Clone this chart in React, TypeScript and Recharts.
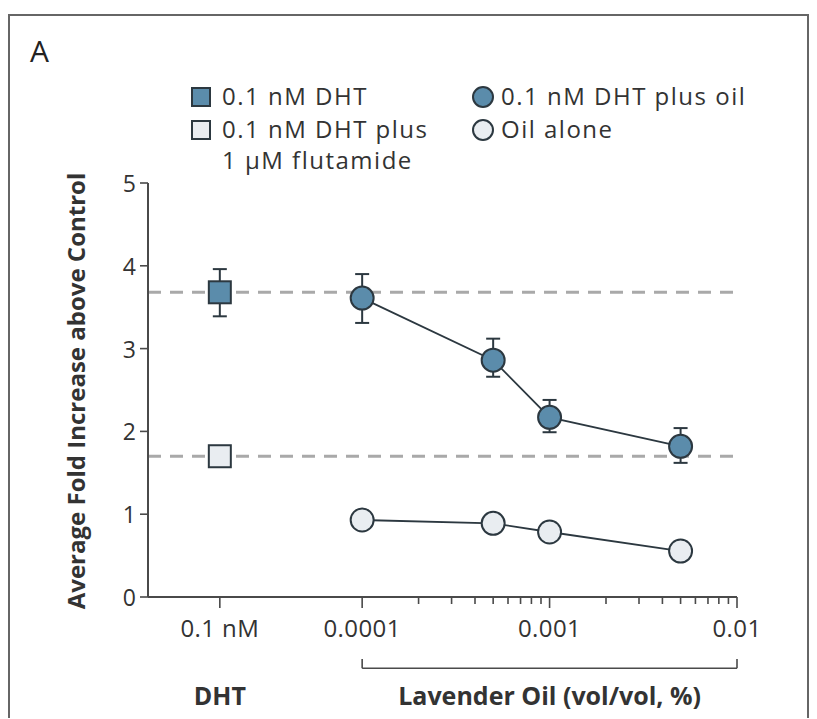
import React from 'react';
import {
  ComposedChart,
  Scatter,
  XAxis,
  YAxis,
  ReferenceLine,
  ReferenceDot,
  ErrorBar,
} from 'recharts';

// ---------- data ----------
const oilConcentrations = [0.0001, 0.0005, 0.001, 0.005];
const dhtPlusOilMean = [3.61, 2.86, 2.17, 1.82];
const dhtPlusOilErrLow = [0.3, 0.2, 0.18, 0.2];
const dhtPlusOilErrHigh = [0.29, 0.26, 0.21, 0.22];
const oilAloneMean = [0.93, 0.89, 0.785, 0.555];

const dhtMean = 3.68;
const dhtErrLow = 0.29;
const dhtErrHigh = 0.28;
const flutamideMean = 1.7;

// position of the "0.1 nM DHT" category on the log axis
const dhtCategoryX = 1.74e-5;
const xDomain = [7.2e-6, 0.01];
const majorTicks = [dhtCategoryX, 0.0001, 0.001, 0.01];
const majorLabels = ['0.1 nM', '0.0001', '0.001', '0.01'];
const minorTicks = [
  0.0002, 0.0003, 0.0004, 0.0005, 0.0006, 0.0007, 0.0008, 0.0009,
  0.002, 0.003, 0.004, 0.005, 0.006, 0.007, 0.008, 0.009,
];
const yTicks = [0, 1, 2, 3, 4, 5];

const bracketLevel = -0.86;
const bracketEndLevel = -0.75;
const groupLabelLevel = -1.18;

// ---------- tables ----------
const dhtData = [{ x: dhtCategoryX, y: dhtMean, err: [dhtErrLow, dhtErrHigh] }];
const flutamideData = [{ x: dhtCategoryX, y: flutamideMean }];
const dhtPlusOilData = oilConcentrations.map((c, i) => ({
  x: c,
  y: dhtPlusOilMean[i],
  err: [dhtPlusOilErrLow[i], dhtPlusOilErrHigh[i]],
}));
const oilAloneData = oilConcentrations.map((c, i) => ({ x: c, y: oilAloneMean[i] }));

const FONT = '"Open Sans", "Noto Sans", sans-serif';
const BLUE = '#5b8cab';
const DARK = '#2c3840';
const LIGHT = '#e9edf1';
const AXIS = '#4a4a4a';
const TEXT = '#333';

const allTicks = [...majorTicks, ...minorTicks];

const XTick = (props: any) => {
  const { x, y, payload } = props;
  const idx = majorTicks.findIndex((t) => Math.abs(t - payload.value) / t < 1e-6);
  const major = idx >= 0;
  return (
    <g>
      <line x1={x} y1={y} x2={x} y2={y + (major ? 11 : 7)} stroke={AXIS} strokeWidth={1.6} />
      {major && (
        <text
          x={x}
          y={y + 40}
          textAnchor="middle"
          fontFamily={FONT}
          fontSize={24}
          letterSpacing={0.4}
          fill={TEXT}
        >
          {majorLabels[idx]}
        </text>
      )}
    </g>
  );
};

const YTick = (props: any) => {
  const { x, y, payload } = props;
  return (
    <text
      x={x}
      y={y}
      textAnchor="end"
      dominantBaseline="central"
      fontFamily={FONT}
      fontSize={23}
      fill={TEXT}
    >
      {payload.value}
    </text>
  );
};

const SquareShape = (fill: string) => (props: any) => {
  const { cx, cy } = props;
  return (
    <rect x={cx - 11} y={cy - 11} width={22} height={22} fill={fill} stroke={DARK} strokeWidth={2} />
  );
};

const CircleShape = (fill: string) => (props: any) => {
  const { cx, cy } = props;
  return <circle cx={cx} cy={cy} r={11.5} fill={fill} stroke={DARK} strokeWidth={2} />;
};

const GroupLabel = (text: string, dx: number) => (props: any) => (
  <text
    x={props.cx + dx}
    y={props.cy}
    textAnchor="middle"
    dominantBaseline="central"
    fontFamily={FONT}
    fontWeight={700}
    fontSize={25}
    fill={TEXT}
  >
    {text}
  </text>
);

const YLabel = (props: any) => {
  const vb = props.viewBox;
  const cx = vb.x + 7;
  const cy = vb.y + vb.height / 2 + 1;
  return (
    <text
      x={cx}
      y={cy}
      transform={`rotate(-90 ${cx} ${cy})`}
      textAnchor="middle"
      dominantBaseline="central"
      fontFamily={FONT}
      fontWeight={700}
      fontSize={24}
      fill={TEXT}
    >
      Average Fold Increase above Control
    </text>
  );
};

const legendText: React.CSSProperties = {
  position: 'absolute',
  fontFamily: FONT,
  fontSize: 24,
  letterSpacing: 1.5,
  color: TEXT,
  lineHeight: '28px',
  whiteSpace: 'nowrap',
};

export default function App() {
  return (
    <div style={{ position: 'relative', width: 801, height: 710 }}>
      <div
        style={{
          position: 'absolute',
          left: 0,
          top: 6,
          width: 801,
          height: 704,
          borderTop: '2px solid #666',
          borderLeft: '2px solid #666',
          borderRight: '2px solid #666',
          boxSizing: 'border-box',
        }}
      />
      <div style={{ position: 'absolute', left: 22, top: 22, fontFamily: FONT, fontSize: 30, color: '#222' }}>
        A
      </div>

      {/* legend */}
      <svg style={{ position: 'absolute', left: 183, top: 79 }} width={20} height={20}>
        <rect x={1} y={1} width={18} height={18} fill={BLUE} stroke={DARK} strokeWidth={2} />
      </svg>
      <div style={{ ...legendText, left: 214, top: 74 }}>0.1 nM DHT</div>
      <svg style={{ position: 'absolute', left: 183, top: 112 }} width={20} height={20}>
        <rect x={1} y={1} width={18} height={18} fill={LIGHT} stroke={DARK} strokeWidth={2} />
      </svg>
      <div style={{ ...legendText, left: 214, top: 107 }}>0.1 nM DHT plus</div>
      <div style={{ ...legendText, left: 214, top: 138 }}>1 μM flutamide</div>
      <svg style={{ position: 'absolute', left: 464, top: 78 }} width={22} height={22}>
        <circle cx={11} cy={11} r={10} fill={BLUE} stroke={DARK} strokeWidth={2} />
      </svg>
      <div style={{ ...legendText, left: 493, top: 74 }}>0.1 nM DHT plus oil</div>
      <svg style={{ position: 'absolute', left: 464, top: 111 }} width={22} height={22}>
        <circle cx={11} cy={11} r={10} fill={LIGHT} stroke={DARK} strokeWidth={2} />
      </svg>
      <div style={{ ...legendText, left: 493, top: 107 }}>Oil alone</div>

      <div style={{ position: 'absolute', left: 0, top: 0 }}>
        <ComposedChart
          width={801}
          height={709}
          margin={{ top: 175, right: 72, left: 60, bottom: 90 }}
        >
          <XAxis
            dataKey="x"
            type="number"
            scale="log"
            domain={xDomain}
            allowDataOverflow
            ticks={allTicks}
            interval={0}
            tick={<XTick />}
            tickLine={false}
            tickSize={0}
            tickMargin={0}
            axisLine={{ stroke: AXIS, strokeWidth: 2 }}
            height={30}
          />
          <YAxis
            dataKey="y"
            type="number"
            domain={[0, 5]}
            ticks={yTicks}
            interval={0}
            width={80}
            tickSize={8}
            tickMargin={4}
            tickLine={{ stroke: AXIS, strokeWidth: 1.6 }}
            axisLine={{ stroke: AXIS, strokeWidth: 2 }}
            tick={<YTick />}
            label={<YLabel />}
          />
          <ReferenceLine y={dhtMean} stroke="#a9a9a9" strokeWidth={3} strokeDasharray="13 9" />
          <ReferenceLine y={flutamideMean} stroke="#a9a9a9" strokeWidth={3} strokeDasharray="13 9" />

          <ReferenceLine
            segment={[
              { x: 0.0001, y: bracketLevel },
              { x: 0.01, y: bracketLevel },
            ]}
            ifOverflow="visible"
            stroke={AXIS}
            strokeWidth={1.6}
          />
          <ReferenceLine
            segment={[
              { x: 0.0001, y: bracketLevel },
              { x: 0.0001, y: bracketEndLevel },
            ]}
            ifOverflow="visible"
            stroke={AXIS}
            strokeWidth={1.6}
          />
          <ReferenceLine
            segment={[
              { x: 0.01, y: bracketLevel },
              { x: 0.01, y: bracketEndLevel },
            ]}
            ifOverflow="visible"
            stroke={AXIS}
            strokeWidth={1.6}
          />
          <ReferenceDot
            x={dhtCategoryX}
            y={groupLabelLevel}
            r={0}
            ifOverflow="visible"
            shape={GroupLabel('DHT', 0)}
          />
          <ReferenceDot
            x={0.001}
            y={groupLabelLevel}
            r={0}
            ifOverflow="visible"
            shape={GroupLabel('Lavender Oil (vol/vol, %)', 0)}
          />

          <Scatter
            data={oilAloneData}
            line={{ stroke: DARK, strokeWidth: 1.8 }}
            lineType="joint"
            shape={CircleShape(LIGHT)}
            isAnimationActive={false}
          />
          <Scatter
            data={dhtPlusOilData}
            line={{ stroke: DARK, strokeWidth: 1.8 }}
            lineType="joint"
            shape={CircleShape(BLUE)}
            isAnimationActive={false}
          >
            <ErrorBar dataKey="err" direction="y" width={7} stroke={DARK} strokeWidth={2} isAnimationActive={false} />
          </Scatter>
          <Scatter data={dhtData} shape={SquareShape(BLUE)} isAnimationActive={false}>
            <ErrorBar dataKey="err" direction="y" width={7} stroke={DARK} strokeWidth={2} isAnimationActive={false} />
          </Scatter>
          <Scatter data={flutamideData} shape={SquareShape(LIGHT)} isAnimationActive={false} />
        </ComposedChart>
      </div>
    </div>
  );
}
